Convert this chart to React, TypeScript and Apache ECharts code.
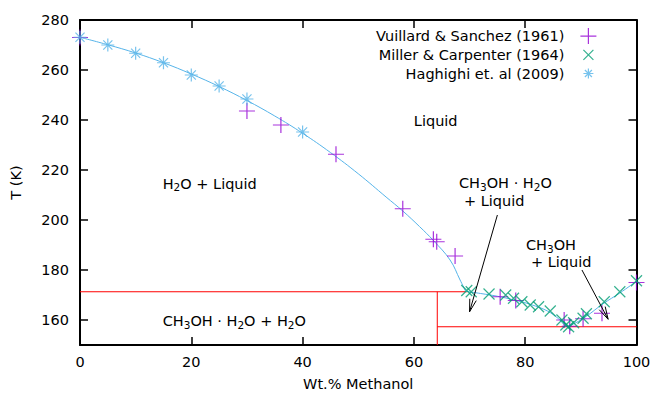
import React, { useEffect, useRef } from 'react';
import * as echarts from 'echarts';

// Vuillard & Sanchez (1961)  (+)
const vsX = [0, 30, 36.1, 46, 58, 63.5, 64.1, 67.4, 75.5, 78.3, 87, 88, 90.4, 93.8, 100];
const vsT = [273, 243.6, 238, 226.3, 204.5, 192.3, 191.3, 185.6, 169.3, 167.8, 160, 157.5, 160.5, 162.7, 175];

// Miller & Carpenter (1964)  (x)
const mcX = [69.5, 70.3, 73.5, 76.5, 77.9, 79.4, 80.9, 82.4, 84.5, 86.6, 87.3, 87.8, 88.7, 90.4, 91, 94.2, 97.0, 100];
const mcT = [171.8, 171.3, 170.4, 170, 168.7, 167.3, 166, 165.3, 163.6, 160, 158, 157.3, 158.9, 160.7, 162.5, 167.3, 171.3, 175.7];

// Haghighi et. al (2009)  (*)
const hgX = [0, 5, 10, 15, 20, 25, 30, 40];
const hgT = [273.1, 270, 266.7, 262.9, 258, 253.6, 248.4, 235.2];

// Liquidus fit, water branch and methanol branch
const fitWX = [0, 5, 10, 15, 20, 25, 30, 35, 40, 45, 50, 55, 58, 61, 63.5, 66.5, 68.3, 69.3];
const fitWT = [273.1, 270.1, 266.8, 262.9, 258.4, 253.4, 247.8, 241.6, 234.7, 227, 218.5, 209.2, 203.6, 197.4, 191.8, 184, 176, 171.5];
const fitMX = [69.3, 72, 75, 78, 81, 84, 86, 87.5, 89, 91, 94, 97, 100];
const fitMT = [171.5, 170.6, 169.5, 168, 166.2, 163.6, 160.5, 157.6, 158.8, 161.5, 166.5, 170.8, 175.5];

// Phase boundaries
const solidusT = 171.3;
const eutecticX = 69.6;
const hydrateX = 64.2;
const lowerSolidusT = 157.3;

// Arrows [fromX, fromT, toX, toT]
const arrowList = [
  [75.0, 202, 70.0, 163.3],
  [90.2, 180, 94.9, 160.3],
];

const xTickLabels = ['0', '20', '40', '60', '80', '100'];

const PLUS = 'path://M0,5L10,5M5,0L5,10';
const CROSS = 'path://M0,0L10,10M10,0L0,10';
const STAR = 'path://M0,5L10,5M5,0L5,10M1.5,1.5L8.5,8.5M8.5,1.5L1.5,8.5';
const CROSS_LEG = 'path://M-3,-3L-3,-3M13,13L13,13M0,0L10,10M10,0L0,10';
const STAR_LEG = 'path://M-3,-3L-3,-3M13,13L13,13M0,5L10,5M5,0L5,10M1.5,1.5L8.5,8.5M8.5,1.5L1.5,8.5';

const PURPLE = '#9400d3';
const GREEN = '#009e73';
const BLUE = '#56b4e9';
const RED = '#ff0000';
const FONT = 'DejaVu Sans';
const FS = 14.5;

const zip = (a: number[], b: number[]) => a.map((v, i) => [v, b[i]]);

export default function App() {
  const ref = useRef<HTMLDivElement>(null);
  useEffect(() => {
    const chart = echarts.init(ref.current!, null, { renderer: 'svg' });
    const axisLine = { show: true, onZero: false, lineStyle: { color: '#000', width: 2 } };
    const axisTick = { show: true, inside: true, length: 8, lineStyle: { color: '#000', width: 1.5 } };
    const scatterBase = (name: string, sym: string, size: number, color: string, data: number[][]) => ({
      name,
      type: 'scatter',
      symbol: sym,
      symbolSize: size,
      itemStyle: { color: 'transparent', borderColor: color, borderWidth: 1.2 },
      data,
      z: 5,
    });
    const redLine = (data: number[][]) => ({
      type: 'line',
      data,
      showSymbol: false,
      symbol: 'none',
      lineStyle: { color: RED, width: 1 },
      silent: true,
      z: 2,
    });
    chart.setOption({
      animation: false,
      backgroundColor: '#fff',
      textStyle: { fontFamily: FONT },
      grid: { left: 79.5, right: 27.5, top: 20, bottom: 54 },
      legend: {
        orient: 'vertical',
        align: 'right',
        right: 67,
        top: 27.5,
        padding: 0,
        itemWidth: 16,
        itemHeight: 16,
        itemGap: 1.5,
        textStyle: { fontFamily: FONT, fontSize: FS, color: '#000', lineHeight: 16, padding: [0, 11, 0, 0] },
        itemStyle: { borderWidth: 1.2 },
        data: [
          { name: 'Vuillard & Sanchez (1961)', icon: PLUS },
          { name: 'Miller & Carpenter (1964)', icon: CROSS_LEG },
          { name: 'Haghighi et. al (2009)', icon: STAR_LEG },
        ],
      },
      xAxis: [
        {
          type: 'value',
          min: 0,
          max: 100,
          interval: 20,
          position: 'bottom',
          axisLine,
          axisTick,
          splitLine: { show: false },
          axisLabel: {
            color: '#000',
            fontFamily: FONT,
            fontSize: FS,
            margin: 9,
            formatter: (v: number) => xTickLabels[Math.round(v / 20)] ?? '',
          },
          name: 'Wt.% Methanol',
          nameLocation: 'middle',
          nameGap: 31,
          nameTextStyle: { color: '#000', fontFamily: FONT, fontSize: FS },
        },
        {
          type: 'value',
          min: 0,
          max: 100,
          interval: 20,
          position: 'top',
          axisLine,
          axisTick,
          splitLine: { show: false },
          axisLabel: { show: false },
        },
      ],
      yAxis: [
        {
          type: 'value',
          min: 150,
          max: 280,
          splitNumber: 6,
          position: 'left',
          axisLine,
          axisTick,
          splitLine: { show: false },
          axisLabel: { color: '#000', fontFamily: FONT, fontSize: FS, margin: 11, showMinLabel: false },
          name: 'T (K)',
          nameLocation: 'middle',
          nameGap: 57,
          nameRotate: 90,
          nameTextStyle: { color: '#000', fontFamily: FONT, fontSize: FS },
        },
        {
          type: 'value',
          min: 150,
          max: 280,
          splitNumber: 6,
          position: 'right',
          axisLine,
          axisTick,
          splitLine: { show: false },
          axisLabel: { show: false },
        },
      ],
      series: [
        redLine([[0, solidusT], [eutecticX, solidusT]]),
        redLine([[hydrateX, solidusT], [hydrateX, 150]]),
        redLine([[hydrateX, lowerSolidusT], [100, lowerSolidusT]]),
        {
          type: 'line',
          data: zip(fitWX, fitWT),
          smooth: 0.4,
          showSymbol: false,
          symbol: 'none',
          lineStyle: { color: BLUE, width: 1 },
          silent: true,
          z: 3,
        },
        {
          type: 'line',
          data: zip(fitMX, fitMT),
          smooth: 0.4,
          showSymbol: false,
          symbol: 'none',
          lineStyle: { color: BLUE, width: 1 },
          silent: true,
          z: 3,
        },
        scatterBase('Vuillard & Sanchez (1961)', PLUS, 16, PURPLE, zip(vsX, vsT)),
        scatterBase('Miller & Carpenter (1964)', CROSS, 11, GREEN, zip(mcX, mcT)),
        scatterBase('Haghighi et. al (2009)', STAR, 13, BLUE, zip(hgX, hgT)),
      ],
    });

    const txt = (text: string, x: number, y: number, align = 'left') => ({
      type: 'text',
      x,
      y,
      z: 10,
      style: {
        text,
        fill: '#000',
        fontFamily: FONT,
        fontSize: FS,
        lineHeight: 18,
        align,
        verticalAlign: 'middle',
        rich: {
          s: { fontFamily: FONT, fontSize: 10.5, lineHeight: 10.5, verticalAlign: 'bottom', fill: '#000' },
        },
      },
    });
    const graphics: any[] = [
      txt('Liquid', 435.7, 120.8, 'center'),
      txt('H{s|2}O + Liquid', 162.7, 183.7),
      txt('CH{s|3}OH · H{s|2}O + H{s|2}O', 162.7, 321),
      txt('CH{s|3}OH · H{s|2}O', 459, 183.3),
      txt('+ Liquid', 464, 200.7),
      txt('CH{s|3}OH', 526, 245),
      txt('+ Liquid', 531, 262.3),
    ];
    arrowList.forEach(([x0, t0, x1, t1]) => {
      const p0 = chart.convertToPixel({ xAxisIndex: 0, yAxisIndex: 0 }, [x0, t0]) as number[];
      const p1 = chart.convertToPixel({ xAxisIndex: 0, yAxisIndex: 0 }, [x1, t1]) as number[];
      const ang = Math.atan2(p1[1] - p0[1], p1[0] - p0[0]);
      const L = 13;
      const h = (15 * Math.PI) / 180;
      const a = [p1[0] - L * Math.cos(ang - h), p1[1] - L * Math.sin(ang - h)];
      const b = [p1[0] - L * Math.cos(ang + h), p1[1] - L * Math.sin(ang + h)];
      graphics.push({
        type: 'line',
        z: 10,
        shape: { x1: p0[0], y1: p0[1], x2: p1[0], y2: p1[1] },
        style: { stroke: '#000', lineWidth: 1 },
      });
      graphics.push({
        type: 'polyline',
        z: 10,
        shape: { points: [a, p1, b] },
        style: { stroke: '#000', lineWidth: 1, fill: null },
      });
    });
    chart.setOption({ graphic: graphics });
    return () => chart.dispose();
  }, []);
  return <div ref={ref} style={{ position: 'fixed', left: 0, top: 0, width: 664, height: 399 }} />;
}
